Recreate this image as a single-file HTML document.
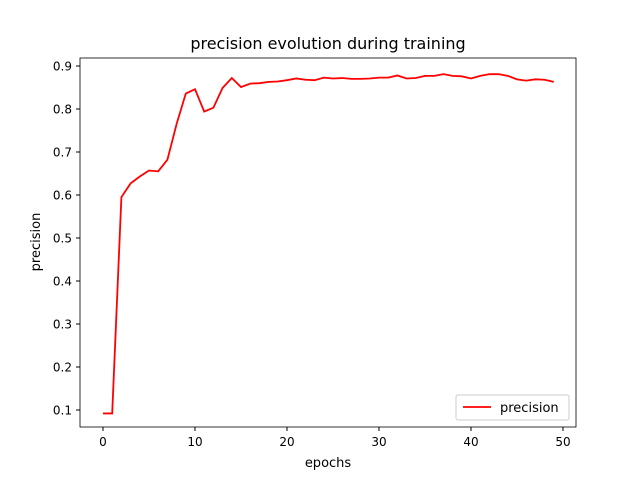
<!DOCTYPE html>
<html><head><meta charset="utf-8"><style>body{margin:0;background:#fff}svg{display:block;font-family:"DejaVu Sans","Liberation Sans",sans-serif}</style></head>
<body>
<svg id="chart" width="640" height="480">
<rect width="640" height="480" fill="#fff"/>
<text x="328" y="49" font-size="16" text-anchor="middle">precision evolution during training</text>
<g id="xt"></g><g id="yt"></g>
<polyline id="line" fill="none" stroke="red" stroke-width="1.8"/>
<rect x="80" y="58" width="496" height="369" fill="none" stroke="#000" stroke-width="0.8"/>
<text x="328" y="467" font-size="13" text-anchor="middle">epochs</text>
<text x="0" y="0" font-size="13" text-anchor="middle" transform="translate(40,242) rotate(-90)">precision</text>
<g>
<rect x="456" y="395" width="113" height="25" rx="2" fill="#fff" stroke="#ccc"/>
<line x1="463" y1="407" x2="491" y2="407" stroke="red" stroke-width="1.8"/>
<text x="500" y="412" font-size="13">precision</text>
</g>
</svg>
<script>
const epochs=[...Array(50).keys()];
const precision=[0.092,0.092,0.595,0.627,0.643,0.657,0.655,0.682,0.765,0.836,0.846,0.794,0.803,0.849,0.872,0.851,0.859,0.860,0.863,0.864,0.867,0.871,0.868,0.867,0.873,0.871,0.872,0.870,0.870,0.871,0.873,0.873,0.878,0.871,0.872,0.877,0.877,0.881,0.877,0.876,0.871,0.877,0.881,0.881,0.877,0.869,0.866,0.869,0.868,0.863];
const xTicks=[0,10,20,30,40,50];
const yTicks=[0.1,0.2,0.3,0.4,0.5,0.6,0.7,0.8,0.9];
const xs=v=>103+v*9.2;
const ys=v=>410-(v-0.1)*430;
const NS="http://www.w3.org/2000/svg";
const xt=document.getElementById('xt'),yt=document.getElementById('yt');
xTicks.forEach(t=>{
const l=document.createElementNS(NS,'line');l.setAttribute('x1',xs(t));l.setAttribute('x2',xs(t));l.setAttribute('y1',427);l.setAttribute('y2',431);l.setAttribute('stroke','#000');


xt.appendChild(l);
const s=document.createElementNS(NS,'text');s.setAttribute('x',xs(t));s.setAttribute('y',446);s.setAttribute('font-size','12');s.setAttribute('text-anchor','middle');s.textContent=t;


xt.appendChild(s);});
yTicks.forEach(t=>{
const l=document.createElementNS(NS,'line');l.setAttribute('x1',76);l.setAttribute('x2',80);l.setAttribute('y1',ys(t));l.setAttribute('y2',ys(t));l.setAttribute('stroke','#000');


yt.appendChild(l);
const s=document.createElementNS(NS,'text');s.setAttribute('x',72);s.setAttribute('y',ys(t)+4.5);s.setAttribute('font-size','12');s.setAttribute('text-anchor','end');s.textContent=t.toFixed(1);


yt.appendChild(s);});
document.getElementById('line').setAttribute('points',epochs.map((e,i)=>xs(e)+','+ys(precision[i])).join(' '));
</script>
</body></html>
